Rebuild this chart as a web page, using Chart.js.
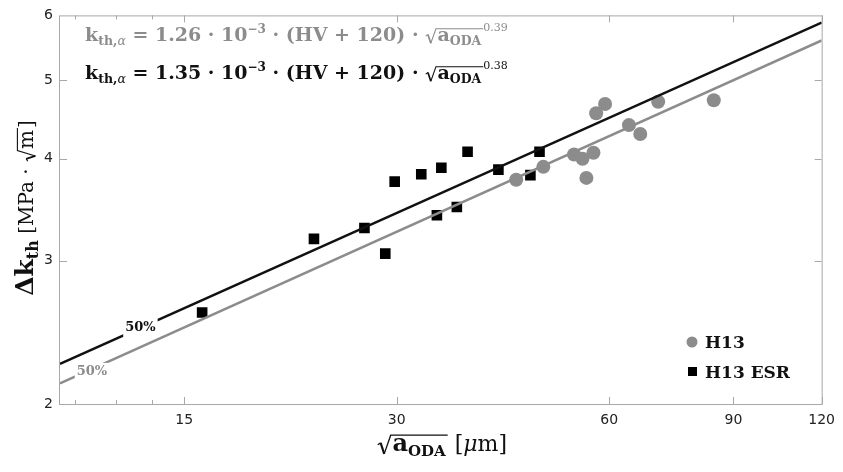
<!DOCTYPE html>
<html>
<head>
<meta charset="utf-8">
<script src="https://cdn.jsdelivr.net/npm/chart.js@4.4.0/dist/chart.umd.min.js"></script>
<style>
  html, body { margin: 0; padding: 0; background: #fff; }
</style>
</head>
<body>
<canvas id="chart" width="843" height="472"></canvas>
<script>
// axis ticks
const xTicks = [15, 30, 60, 90, 120]
const xMinorTicks = [10.5, 12, 13.5]
const yTicks = [2, 3, 4, 5, 6]

// H13 (grey circles)
const h13X = [44.3, 48.4, 53.5, 55.0, 57.0, 55.7, 57.5, 59.2, 64.0, 66.4, 70.4, 84.4]
const h13Y = [3.77, 3.91, 4.05, 4.00, 4.07, 3.79, 4.55, 4.67, 4.40, 4.29, 4.70, 4.72]

// H13 ESR (black squares)
const esrX = [15.9, 22.9, 27.0, 28.9, 29.8, 32.5, 34.7, 34.2, 36.5, 37.8, 41.8, 46.4, 47.8]
const esrY = [2.59, 3.19, 3.29, 3.06, 3.75, 3.83, 3.90, 3.41, 3.49, 4.08, 3.88, 3.82, 4.08]

// 50% fit lines, end points read at x = 10 and x = 120
const fitX = [10, 120]
const fitH13 = [2.12, 5.59]
const fitESR = [2.24, 5.88]

// where the "50%" labels sit on each line
const h13LabelAt = [11.1, 2.19]
const esrLabelAt = [13, 2.48]

const GRAY = '#8c8c8c'
const BLACK = '#111111'
const FRAME = '#a8a8a8'
const SERIF = '"DejaVu Serif", serif'

const toPoints = (xs, ys) => xs.map((x, i) => ({ x, y: ys[i] }))

function font(size, bold, italic) {
  return `${italic ? 'italic ' : ''}${bold ? 'bold ' : ''}${size}px ${SERIF}`
}

function partsWidth(ctx, parts) {
  let w = 0
  for (const p of parts) {
    if (p.sqrt) w += p.size * 0.6 + partsWidth(ctx, p.sqrt) + 3
    else {
      ctx.font = font(p.size, p.bold, p.italic)
      w += ctx.measureText(p.t).width
    }
  }
  return w
}

// draws a run of text pieces (sub/superscripts, radicals) left to right
function drawParts(ctx, x, y, parts, color) {
  ctx.textBaseline = 'alphabetic'
  ctx.textAlign = 'left'
  for (const p of parts) {
    ctx.fillStyle = color
    ctx.strokeStyle = color
    if (p.sqrt) {
      const s = p.size
      const inner = partsWidth(ctx, p.sqrt)
      const top = y - s * (p.top || 0.62)
      const sw = s * 0.6
      ctx.lineWidth = Math.max(1, s * 0.055)
      ctx.beginPath()
      ctx.moveTo(x + sw * 0.05, y - s * 0.26)
      ctx.lineTo(x + sw * 0.25, y - s * 0.34)
      ctx.stroke()
      ctx.lineWidth = Math.max(1.4, s * 0.09)
      ctx.beginPath()
      ctx.moveTo(x + sw * 0.25, y - s * 0.34)
      ctx.lineTo(x + sw * 0.5, y + s * 0.12)
      ctx.stroke()
      ctx.lineWidth = Math.max(1, s * 0.055)
      ctx.beginPath()
      ctx.moveTo(x + sw * 0.5, y + s * 0.12)
      ctx.lineTo(x + sw * 0.95, top)
      ctx.lineTo(x + sw + inner + 3, top)
      ctx.stroke()
      drawParts(ctx, x + sw + 1, y, p.sqrt, color)
      x += sw + inner + 3
    } else {
      ctx.font = font(p.size, p.bold, p.italic)
      ctx.fillText(p.t, x, y + (p.dy || 0))
      x += ctx.measureText(p.t).width
    }
  }
  return x
}

function formula(coef, expo) {
  const F = 19, sub = 12.5, sup = 12
  return [
    { t: 'k', size: F, bold: true },
    { t: 'th,', size: sub, bold: true, dy: 4 },
    { t: 'α', size: sub, italic: true, dy: 4 },
    { t: ' = ' + coef + ' · 10', size: F, bold: true },
    { t: '−3', size: sup, bold: true, dy: -8 },
    { t: ' · (HV + 120) · ', size: F, bold: true },
    { sqrt: [{ t: 'a', size: F, bold: true }, { t: 'ODA', size: sub, bold: true, dy: 4 }], size: F, top: 0.64 },
    { t: expo, size: 11, dy: -10 }
  ]
}

const annotations = {
  id: 'annotations',
  beforeDatasetsDraw(chart) {
    const { ctx, chartArea: a, scales: { x, y } } = chart
    ctx.save()
    ctx.strokeStyle = FRAME
    ctx.lineWidth = 1
    ctx.strokeRect(a.left - 0.5, a.top + 0.5, a.right - a.left + 1, a.bottom - a.top)
    ctx.beginPath()
    xMinorTicks.concat(xTicks).forEach(v => {
      const px = Math.round(x.getPixelForValue(v)) + 0.5
      const len = xTicks.includes(v) ? 7 : 4
      ctx.moveTo(px, a.bottom); ctx.lineTo(px, a.bottom - len)
      ctx.moveTo(px, a.top); ctx.lineTo(px, a.top + len)
    })
    yTicks.slice(1, -1).forEach(v => {
      const py = Math.round(y.getPixelForValue(v)) + 0.5
      ctx.moveTo(a.left, py); ctx.lineTo(a.left + 7, py)
      ctx.moveTo(a.right, py); ctx.lineTo(a.right - 7, py)
    })
    ctx.stroke()
    ctx.restore()
  },
  afterDatasetsDraw(chart) {
    const { ctx, scales: { x, y } } = chart
    ctx.save()
    // 50% labels breaking the fit lines
    ;[[esrLabelAt, BLACK], [h13LabelAt, GRAY]].forEach(([at, color]) => {
      const px = x.getPixelForValue(at[0])
      const py = y.getPixelForValue(at[1])
      ctx.font = font(13, true)
      const w = ctx.measureText('50%').width
      ctx.fillStyle = '#fff'
      ctx.fillRect(px - w / 2 - 2, py - 9, w + 4, 18)
      ctx.fillStyle = color
      ctx.textAlign = 'center'
      ctx.textBaseline = 'middle'
      ctx.fillText('50%', px, py)
    })

    // formulas
    drawParts(ctx, 85, 41, formula('1.26', '0.39'), GRAY)
    drawParts(ctx, 85, 79, formula('1.35', '0.38'), BLACK)

    // legend
    ctx.fillStyle = GRAY
    ctx.beginPath(); ctx.arc(692, 342, 5.5, 0, Math.PI * 2); ctx.fill()
    ctx.fillStyle = '#000'
    ctx.fillRect(688, 367, 9, 9)
    ctx.fillStyle = BLACK
    ctx.font = font(17, true)
    ctx.textAlign = 'left'
    ctx.textBaseline = 'alphabetic'
    ctx.fillText('H13', 705, 348)
    ctx.fillText('H13 ESR', 705, 378)
    ctx.restore()
  },
  afterDraw(chart) {
    const { ctx } = chart
    ctx.save()
    // x axis title
    const xt = [
      { sqrt: [{ t: 'a', size: 24, bold: true }, { t: 'ODA', size: 15, bold: true, dy: 5 }], size: 24, top: 0.66 },
      { t: ' [', size: 22 },
      { t: 'μ', size: 22, italic: true },
      { t: 'm]', size: 22 }
    ]
    const xw = partsWidth(ctx, xt)
    drawParts(ctx, 442 - xw / 2, 451, xt, BLACK)

    // y axis title
    const yt = [
      { t: 'Δk', size: 25, bold: true },
      { t: 'th', size: 16, bold: true, dy: 5 },
      { t: ' [MPa · ', size: 20 },
      { sqrt: [{ t: 'm', size: 20 }], size: 20, top: 0.78 },
      { t: ']', size: 20 }
    ]
    const yw = partsWidth(ctx, yt)
    ctx.translate(33, 208)
    ctx.rotate(-Math.PI / 2)
    drawParts(ctx, -yw / 2, 0, yt, BLACK)
    ctx.restore()
  }
}

new Chart(document.getElementById('chart'), {
  type: 'scatter',
  data: {
    datasets: [
      {
        label: 'fit H13 ESR',
        data: toPoints(fitX, fitESR),
        showLine: true,
        borderColor: BLACK,
        borderWidth: 2.5,
        pointRadius: 0
      },
      {
        label: 'fit H13',
        data: toPoints(fitX, fitH13),
        showLine: true,
        borderColor: GRAY,
        borderWidth: 2.5,
        pointRadius: 0
      },
      {
        label: 'H13',
        data: toPoints(h13X, h13Y),
        pointStyle: 'circle',
        pointRadius: 7,
        backgroundColor: GRAY,
        borderWidth: 0
      },
      {
        label: 'H13 ESR',
        data: toPoints(esrX, esrY),
        pointStyle: 'rect',
        pointRadius: 7.5,
        backgroundColor: '#000',
        borderWidth: 0
      }
    ]
  },
  options: {
    responsive: false,
    animation: false,
    devicePixelRatio: 1,
    layout: { padding: { left: 0, right: 21, top: 13, bottom: 0 } },
    plugins: { legend: { display: false }, tooltip: { enabled: false } },
    scales: {
      x: {
        type: 'logarithmic',
        min: 10,
        max: 120,
        afterBuildTicks: s => { s.ticks = xMinorTicks.concat(xTicks).map(v => ({ value: v })) },
        afterFit: s => { s.height = 68 },
        grid: { display: false, drawTicks: false },
        border: { display: false },
        ticks: {
          autoSkip: false,
          maxRotation: 0,
          padding: 8,
          color: '#222',
          font: { family: '"DejaVu Sans", sans-serif', size: 14 },
          callback: v => xTicks.includes(v) ? String(v) : ''
        }
      },
      y: {
        type: 'logarithmic',
        min: 2,
        max: 6,
        afterBuildTicks: s => { s.ticks = yTicks.map(v => ({ value: v })) },
        afterFit: s => { s.width = 60 },
        grid: { display: false, drawTicks: false },
        border: { display: false },
        ticks: {
          padding: 7,
          color: '#222',
          font: { family: '"DejaVu Sans", sans-serif', size: 14 },
          callback: v => String(v)
        }
      }
    }
  },
  plugins: [annotations]
})
</script>
</body>
</html>
